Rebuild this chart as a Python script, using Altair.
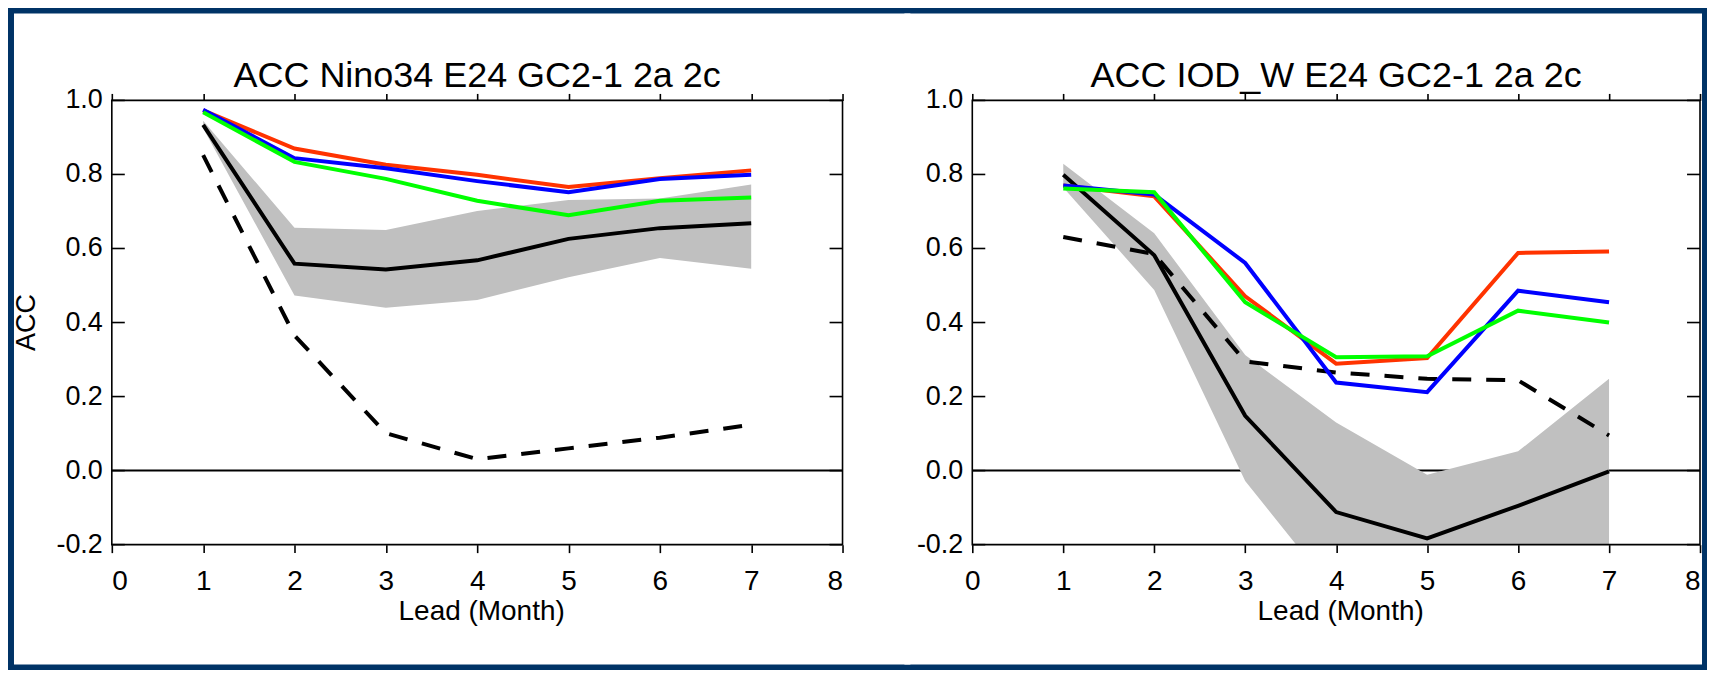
import altair as alt
import pandas as pd

FONT = "Liberation Sans"
NAVY = "#003366"

leads = [1, 2, 3, 4, 5, 6, 7]
x_ticks = [0, 1, 2, 3, 4, 5, 6, 7, 8]
y_ticks = [-0.2, 0.0, 0.2, 0.4, 0.6, 0.8, 1.0]
y_labels = ["-0.2", "0.0", "0.2", "0.4", "0.6", "0.8", "1.0"]

title_left = "ACC Nino34 E24 GC2-1 2a 2c"
title_right = "ACC IOD_W E24 GC2-1 2a 2c"
x_title = "Lead (Month)"
y_title = "ACC"

# Nino34 panel
nino_red = [0.973, 0.870, 0.826, 0.799, 0.766, 0.790, 0.811]
nino_blue = [0.975, 0.844, 0.817, 0.782, 0.752, 0.788, 0.799]
nino_green = [0.968, 0.834, 0.788, 0.729, 0.690, 0.729, 0.738]
nino_black = [0.934, 0.559, 0.543, 0.568, 0.626, 0.655, 0.668]
nino_dash = [0.852, 0.365, 0.101, 0.031, 0.060, 0.089, 0.124]
nino_hi = [0.945, 0.656, 0.650, 0.701, 0.731, 0.735, 0.773]
nino_lo = [0.925, 0.473, 0.440, 0.461, 0.522, 0.574, 0.545]

# IOD_W panel
iod_red = [0.770, 0.741, 0.471, 0.289, 0.304, 0.588, 0.592]
iod_blue = [0.770, 0.746, 0.561, 0.238, 0.212, 0.486, 0.455]
iod_green = [0.762, 0.752, 0.455, 0.306, 0.309, 0.432, 0.400]
iod_black = [0.799, 0.582, 0.148, -0.112, -0.183, -0.095, -0.002]
iod_dash = [0.631, 0.585, 0.295, 0.265, 0.248, 0.244, 0.095]
iod_hi = [0.829, 0.641, 0.312, 0.130, -0.011, 0.052, 0.248]
iod_lo = [0.765, 0.488, -0.028, -0.335, -0.40, -0.36, -0.30]

H = 445
LW = 4


def panel(title, red, blue, green, black, dash, hi, lo, W, rx1, rx2, show_ytitle, flush_last):
    df = pd.DataFrame({"lead": leads, "red": red, "blue": blue, "green": green,
                       "black": black, "dash": dash, "hi": hi, "lo": lo})
    one = pd.DataFrame({"title": [title], "ytitle": [y_title]})
    zero = pd.DataFrame({"z": [0.0]})
    ticks = pd.DataFrame({"t": y_ticks, "lab": y_labels})

    xs = alt.Scale(domain=[0, 8], nice=False, zero=False)
    ys = alt.Scale(domain=[-0.2, 1.0], nice=False, zero=False)

    bx_kw = dict(orient="bottom", values=x_ticks, format="d", ticks=True, tickSize=8,
                 tickWidth=1.6, tickColor="black", domain=False, grid=False,
                 labelFont=FONT, labelFontSize=28, labelColor="black", labelPadding=15,
                 labelOverlap=False, labelBound=False,
                 title=x_title, titleFont=FONT, titleFontSize=28, titleFontWeight="normal",
                 titleColor="black", titleX=W / 2 + 4, titleY=75, titleAlign="center",
                 titleBaseline="alphabetic", zindex=1)
    if flush_last:
        bx_kw["labelAlign"] = {"condition": {"test": "datum.value == 8", "value": "right"},
                               "value": "center"}
    bottom_axis = alt.Axis(**bx_kw)
    top_axis = alt.Axis(orient="top", values=x_ticks, labels=False, ticks=True, tickSize=7,
                        tickWidth=1.6, tickColor="black", domain=False, grid=False,
                        title=None, zindex=1)

    bg = alt.Chart(one).mark_rect(fill="white", strokeWidth=0).encode(
        x=alt.value(rx1), x2=alt.value(rx2), y=alt.value(-87), y2=alt.value(565))

    zline = alt.Chart(zero).mark_rule(color="black", strokeWidth=2).encode(
        y=alt.Y("z:Q", scale=ys, axis=None), x=alt.value(0), x2=alt.value(W))

    band = alt.Chart(df).mark_area(color="#c0c0c0", opacity=1, clip=True).encode(
        x=alt.X("lead:Q", scale=xs, axis=bottom_axis),
        y=alt.Y("lo:Q", scale=ys, axis=None),
        y2="hi:Q")

    frame = alt.Chart(one).mark_rect(fill="white", fillOpacity=0, stroke="black",
                                     strokeWidth=1.6).encode(
        x=alt.value(0), x2=alt.value(W), y=alt.value(0), y2=alt.value(H))

    lt = alt.Chart(ticks).mark_rule(color="black", strokeWidth=1.6).encode(
        y=alt.Y("t:Q", scale=ys, axis=None), x=alt.value(0), x2=alt.value(13))
    rt = alt.Chart(ticks).mark_rule(color="black", strokeWidth=1.6).encode(
        y=alt.Y("t:Q", scale=ys, axis=None), x=alt.value(W - 13), x2=alt.value(W))
    ylab = alt.Chart(ticks).mark_text(font=FONT, fontSize=27, color="black", align="right",
                                      baseline="middle").encode(
        y=alt.Y("t:Q", scale=ys, axis=None), x=alt.value(-9), text="lab:N")

    blk = alt.Chart(df).mark_line(color="black", strokeWidth=LW).encode(
        x=alt.X("lead:Q", scale=xs, axis=top_axis),
        y=alt.Y("black:Q", scale=ys, axis=None))
    dsh = alt.Chart(df).mark_line(color="black", strokeWidth=LW, strokeDash=[19, 15]).encode(
        x=alt.X("lead:Q", scale=xs, axis=None),
        y=alt.Y("dash:Q", scale=ys, axis=None))

    def cl(field, color):
        return alt.Chart(df).mark_line(color=color, strokeWidth=LW).encode(
            x=alt.X("lead:Q", scale=xs, axis=None),
            y=alt.Y(field + ":Q", scale=ys, axis=None))

    ttl = alt.Chart(one).mark_text(font=FONT, fontSize=36, color="black", align="center",
                                   baseline="alphabetic").encode(
        x=alt.value(W / 2), y=alt.value(-13), text="title:N")

    layers = [bg, zline, band, frame, lt, rt, ylab, blk, dsh,
              cl("red", "#ff3300"), cl("blue", "#0000ff"), cl("green", "#00ff00"), ttl]
    if show_ytitle:
        ytl = alt.Chart(one).mark_text(font=FONT, fontSize=27, color="black", align="center",
                                       baseline="alphabetic", angle=270).encode(
            x=alt.value(-77), y=alt.value(H / 2), text="ytitle:N")
        layers.append(ytl)

    return alt.layer(*layers).resolve_axis(x="independent").properties(width=W, height=H)


left = panel(title_left, nino_red, nino_blue, nino_green, nino_black, nino_dash,
             nino_hi, nino_lo, 732, -98, 800, True, False)
right = panel(title_right, iod_red, iod_blue, iod_green, iod_black, iod_dash,
              iod_hi, iod_lo, 729, -68, 731, False, True)

chart = alt.hconcat(left, right, spacing=130, bounds="flush").properties(
    padding={"left": 4, "top": 4, "right": 4, "bottom": 4},
    background=NAVY,
).configure_view(stroke="transparent")

chart.save("out.html", embed_options={"renderer": "svg", "actions": False})
